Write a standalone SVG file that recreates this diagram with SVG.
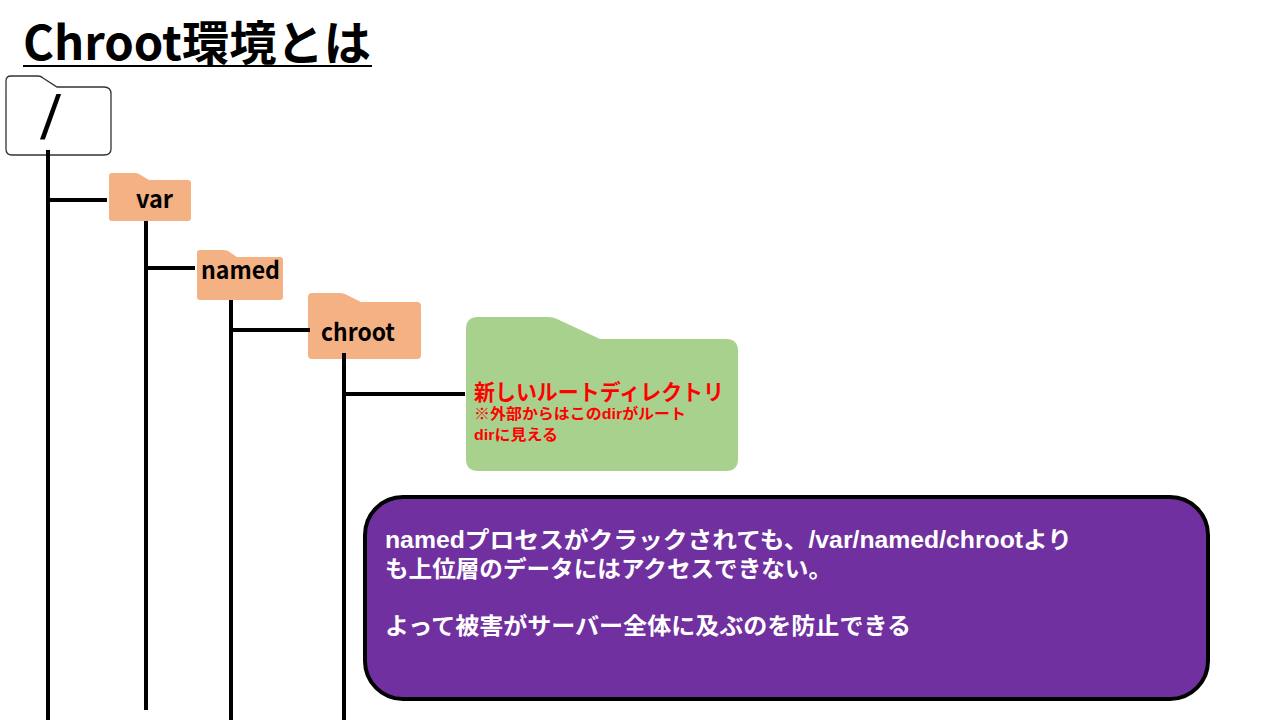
<svg xmlns="http://www.w3.org/2000/svg" width="1280" height="720" viewBox="0 0 1280 720">
<style>
text{font-family:"Noto Sans CJK JP","Noto Sans",sans-serif;font-weight:700}
.f{fill:#F4B183}
.l{stroke:#000;stroke-width:4;fill:none}
.n{font-size:24px;fill:#000}
.w{font-family:"Liberation Sans","Noto Sans CJK JP",sans-serif;font-size:23px;fill:#fff;font-weight:700}
.r{font-family:"Liberation Sans","Noto Sans CJK JP",sans-serif;fill:#FF0000}
.s{font-family:"Liberation Sans",sans-serif;font-weight:400;font-size:62px;fill:#000}
</style>
<rect width="1280" height="720" fill="#fff"/>
<g id="title"><text x="23" y="60" font-size="47" fill="#000" textLength="348" lengthAdjust="spacingAndGlyphs">Chroot環境とは</text><rect x="23" y="65" width="349" height="2" fill="#000"/></g>
<g id="node-root"><path d="M11 76H38Q41 76 43 78L57 87H104Q111 87 111 94V149Q111 155 104 155H12Q6 155 6 149V81Q6 76 11 76Z" fill="#fff" stroke="#333" stroke-width="1.3"/><text class="s" transform="translate(40 139) skewX(-5)" x="0" y="0">/</text></g>
<g id="node-var"><path class="f" d="M112 173H134Q137 173 139 174L149 180H188Q191 180 191 183V218Q191 221 188 221H112Q109 221 109 218V176Q109 173 112 173Z"/><text class="n" x="136" y="208" textLength="37" lengthAdjust="spacingAndGlyphs">var</text></g>
<g id="node-named"><path class="f" d="M200 250H223Q226 250 228 251L237 257H280Q283 257 283 260V297Q283 300 280 300H200Q197 300 197 297V253Q197 250 200 250Z"/><text class="n" x="201" y="279" textLength="79" lengthAdjust="spacingAndGlyphs">named</text></g>
<g id="node-chroot"><path class="f" d="M312 293H339Q342 293 345 294L361 302H417Q421 302 421 306V355Q421 359 417 359H312Q308 359 308 355V297Q308 293 312 293Z"/><text class="n" x="321" y="341" textLength="74" lengthAdjust="spacingAndGlyphs">chroot</text></g>
<g id="node-newroot"><path d="M478 317H548Q553 317 557 319L600 339H726Q738 339 738 351V459Q738 471 726 471H478Q466 471 466 459V329Q466 317 478 317Z" fill="#A9D18E"/><text class="r" x="474" y="400" font-size="22" textLength="250" lengthAdjust="spacingAndGlyphs">新しいルートディレクトリ</text><text class="r" x="474" y="419" font-size="15" textLength="212" lengthAdjust="spacingAndGlyphs">※外部からはこのdirがルート</text><text class="r" x="474" y="440" font-size="15" textLength="84" lengthAdjust="spacingAndGlyphs">dirに見える</text></g>
<g id="node-note"><rect x="365" y="497" width="843" height="202" rx="38" fill="#7030A0" stroke="#000" stroke-width="4"/><text class="w"><tspan x="385" y="548" textLength="687" lengthAdjust="spacingAndGlyphs">namedプロセスがクラックされても、/var/named/chrootより</tspan><tspan x="385" y="577" textLength="447" lengthAdjust="spacingAndGlyphs">も上位層のデータにはアクセスできない。</tspan><tspan x="385" y="634" textLength="526" lengthAdjust="spacingAndGlyphs">よって被害がサーバー全体に及ぶのを防止できる</tspan></text></g>
<g id="connectors">
<path class="l" d="M48 150V720M48 200H107M146 221V710M146 268H195M231 300V720M231 330H310M344 353V720M344 394H465"/>
</g>
</svg>
